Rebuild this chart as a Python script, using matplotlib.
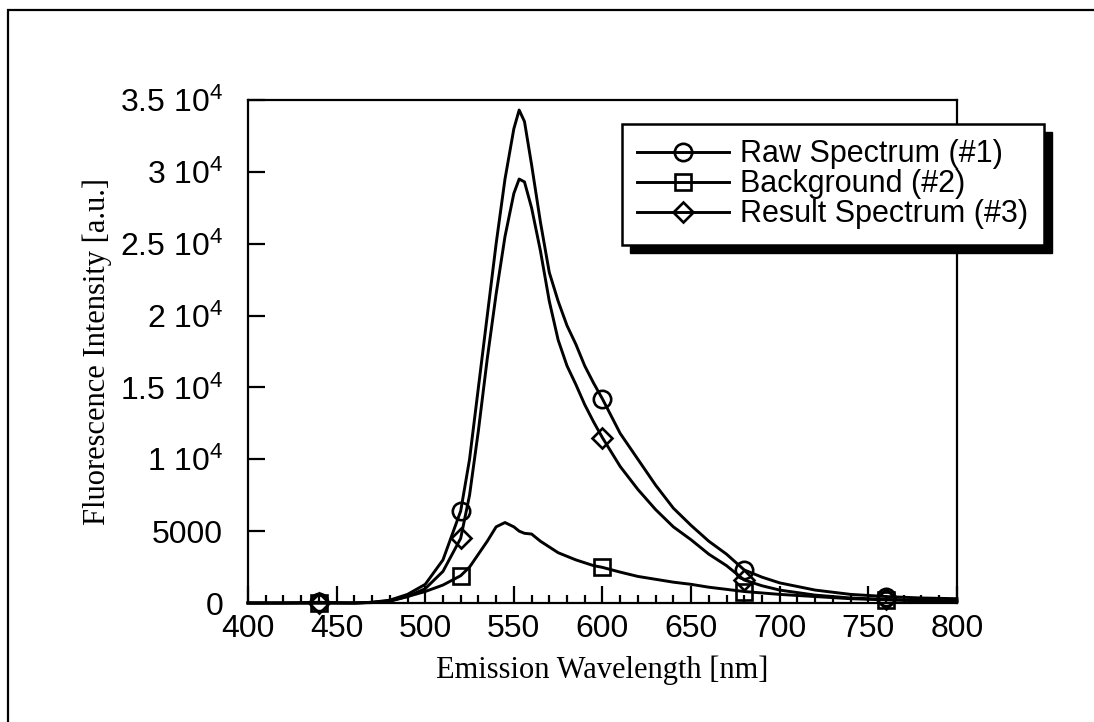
import matplotlib
matplotlib.use('Agg')
import matplotlib.pyplot as plt
from matplotlib.patches import Rectangle
from matplotlib.ticker import MultipleLocator

plt.rcParams['font.family'] = ['Liberation Sans', 'DejaVu Sans']
plt.rcParams['mathtext.fontset'] = 'custom'
plt.rcParams['mathtext.rm'] = 'Liberation Sans'
plt.rcParams['mathtext.it'] = 'Liberation Sans:italic'

# wavelength grid [nm]
wavelength = [400, 420, 440, 460, 470, 480, 490, 500, 510, 520, 525, 530, 535,
              540, 545, 550, 553, 556, 560, 565, 570, 575, 580, 585, 590, 595,
              600, 610, 620, 630, 640, 650, 660, 670, 680, 690, 700, 720, 740,
              760, 780, 800]

# intensities, in thousands
raw = [0, 0, 0.05, 0, 0.05, 0.2, 0.6, 1.3, 3.0, 6.4, 10, 15, 20,
       25, 29.5, 33, 34.3, 33.5, 30.5, 26.5, 23, 21, 19.3, 18, 16.5, 15.3,
       14.2, 11.8, 10.0, 8.2, 6.6, 5.4, 4.3, 3.4, 2.3, 1.8, 1.4, 0.9, 0.6,
       0.45, 0.35, 0.3]
background = [0, 0, 0, 0, 0.05, 0.15, 0.45, 0.8, 1.25, 1.9, 2.5, 3.4, 4.3,
              5.3, 5.6, 5.3, 5.0, 4.85, 4.8, 4.3, 3.9, 3.5, 3.25, 3.0, 2.8, 2.6,
              2.48, 2.15, 1.85, 1.65, 1.45, 1.3, 1.1, 0.95, 0.8, 0.7, 0.6, 0.45,
              0.3, 0.22, 0.15, 0.1]
result = [0, 0, 0, 0, 0.03, 0.12, 0.45, 1.0, 2.2, 4.5, 7.5, 12, 17,
          21.5, 25.5, 28.5, 29.5, 29.3, 27.5, 24.5, 21, 18.3, 16.5, 15.2, 13.8, 12.6,
          11.5, 9.5, 7.9, 6.5, 5.3, 4.4, 3.4, 2.6, 1.6, 1.2, 0.9, 0.55, 0.35,
          0.25, 0.18, 0.15]

marker_at = [440, 520, 600, 680, 760]

yticks = [0, 5000, 10000, 15000, 20000, 25000, 30000, 35000]
ytick_labels = ['0', '5000', '1 10$^{4}$', '1.5 10$^{4}$', '2 10$^{4}$',
                '2.5 10$^{4}$', '3 10$^{4}$', '3.5 10$^{4}$']

fig = plt.figure(figsize=(10.94, 7.22), dpi=100)
ax = fig.add_axes([0.2267, 0.1648, 0.648, 0.6967])

# outer frame around the whole plot (runs off the right/bottom edge)
fig.add_artist(Rectangle((8 / 1094, -0.2), 1.2, 1.2 - 10 / 722,
                         transform=fig.transFigure, fill=False,
                         lw=1.6, ec='black'))

marks = [wavelength.index(w) for w in marker_at]
series = [(raw, 'o', 'Raw Spectrum (#1)', 12.5),
          (background, 's', 'Background (#2)', 12),
          (result, 'D', 'Result Spectrum (#3)', 10)]
for vals, mk, name, ms in series:
    ax.plot(wavelength, [v * 1000 for v in vals], color='black', lw=2.1,
            marker=mk, markevery=marks, ms=ms, mfc='none', mec='black',
            mew=1.9, label=name, clip_on=False)

ax.set_xlim(400, 800)
ax.set_ylim(0, 35000)
ax.xaxis.set_major_locator(MultipleLocator(50))
ax.xaxis.set_minor_locator(MultipleLocator(10))
ax.set_yticks(yticks)
ax.set_yticklabels(ytick_labels)
ax.tick_params(which='major', direction='in', length=12, width=1.6,
               labelsize=23)
ax.tick_params(which='minor', direction='in', length=6, width=1.6)
ax.tick_params(axis='x', which='both', top=False, pad=8)
ax.tick_params(axis='y', which='both', right=False, pad=18)
for sp in ax.spines.values():
    sp.set_linewidth(1.6)

ax.set_xlabel('Emission Wavelength [nm]', family='Liberation Serif',
              fontsize=22, labelpad=8)
ax.set_ylabel('Fluorescence Intensity [a.u.]', family='Liberation Serif',
              fontsize=22, labelpad=6)

leg = ax.legend(loc='upper left', bbox_to_anchor=(0.527, 0.952),
                fontsize=22, frameon=True, fancybox=False,
                handlelength=3.0, handletextpad=0.38, borderpad=0.5,
                labelspacing=0.0, borderaxespad=0)
leg.get_frame().set_edgecolor('black')
leg.get_frame().set_linewidth(1.8)
leg.get_frame().set_alpha(1)
leg.set_zorder(6)

# drop shadow behind the legend box
fig.canvas.draw()
bb = leg.get_window_extent()
ax.add_patch(Rectangle((bb.x0 + 8, bb.y0 - 8), bb.width, bb.height,
                       transform=None, color='black', zorder=5.5,
                       clip_on=False))

fig.savefig('out.png', dpi=100)
